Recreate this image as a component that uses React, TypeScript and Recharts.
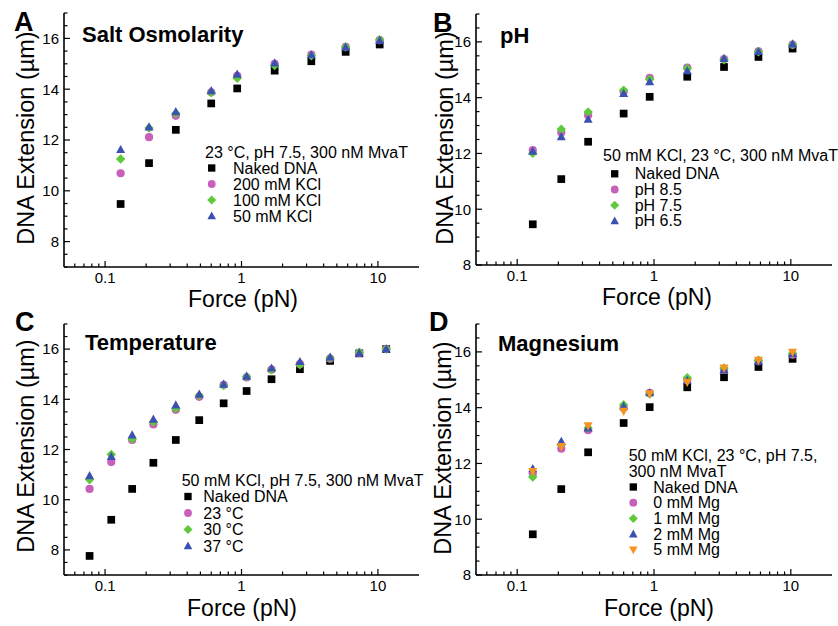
import React from 'react';
import { ScatterChart, Scatter, XAxis, YAxis, Legend } from 'recharts';

const FONT = '"Liberation Sans", Arial, Helvetica, sans-serif';

// ---------- data ----------
const forceStd = [0.13, 0.21, 0.33, 0.6, 0.93, 1.75, 3.25, 5.8, 10.3];
const forceTemp = [0.077, 0.111, 0.158, 0.226, 0.33, 0.49, 0.74, 1.09, 1.66, 2.68, 4.46, 7.3, 11.5];

const saltNaked = [9.48, 11.09, 12.4, 13.44, 14.03, 14.73, 15.1, 15.47, 15.76];
const salt200 = [10.69, 12.11, 12.95, 13.88, 14.53, 15.0, 15.36, 15.67, 15.93];
const salt100 = [11.25, 12.47, 13.04, 13.86, 14.43, 14.93, 15.32, 15.66, 15.95];
const salt50 = [11.62, 12.51, 13.11, 13.94, 14.59, 15.03, 15.35, 15.65, 15.92];

const phNaked = [9.46, 11.08, 12.42, 13.43, 14.03, 14.75, 15.1, 15.46, 15.76];
const ph85 = [12.12, 12.75, 13.37, 14.21, 14.71, 15.08, 15.38, 15.66, 15.9];
const ph75 = [12.01, 12.87, 13.49, 14.27, 14.66, 15.05, 15.36, 15.65, 15.9];
const ph65 = [12.08, 12.6, 13.22, 14.15, 14.57, 14.96, 15.4, 15.65, 15.92];

const tempNaked = [7.76, 9.2, 10.43, 11.47, 12.38, 13.17, 13.84, 14.33, 14.8, 15.2, 15.53, 15.83, 16.0];
const temp23 = [10.43, 11.5, 12.38, 13.0, 13.58, 14.1, 14.58, 14.87, 15.18, 15.4, 15.62, 15.84, 16.0];
const temp30 = [10.8, 11.8, 12.42, 13.1, 13.63, 14.15, 14.55, 14.9, 15.18, 15.38, 15.65, 15.87, 16.0];
const temp37 = [10.95, 11.72, 12.58, 13.2, 13.77, 14.2, 14.6, 14.92, 15.24, 15.5, 15.68, 15.84, 16.0];

const mgNaked = [9.46, 11.08, 12.4, 13.45, 14.02, 14.73, 15.09, 15.46, 15.75];
const mg0 = [11.63, 12.53, 13.19, 13.99, 14.53, 15.0, 15.36, 15.66, 15.9];
const mg1 = [11.51, 12.67, 13.27, 14.1, 14.49, 15.07, 15.42, 15.7, 15.94];
const mg2 = [11.81, 12.79, 13.27, 14.05, 14.53, 14.97, 15.36, 15.66, 15.94];
const mg5 = [11.71, 12.61, 13.35, 13.87, 14.5, 14.91, 15.42, 15.7, 15.99];

const xTicks = [0.06, 0.07, 0.08, 0.09, 0.1, 0.2, 0.3, 0.4, 0.5, 0.6, 0.7, 0.8, 0.9, 1, 2, 3, 4, 5, 6, 7, 8, 9, 10];
const xMajor = [0.1, 1, 10];
const yTicks7 = [7, 7.5, 8, 8.5, 9, 9.5, 10, 10.5, 11, 11.5, 12, 12.5, 13, 13.5, 14, 14.5, 15, 15.5, 16, 16.5, 17];
const yTicks8 = [8, 8.5, 9, 9.5, 10, 10.5, 11, 11.5, 12, 12.5, 13, 13.5, 14, 14.5, 15, 15.5, 16, 16.5, 17];

const COLORS = {
  black: '#000000',
  magenta: '#c75fbb',
  green: '#5fc83b',
  blue: '#3c50b2',
  orange: '#f7931e',
};

const toPoints = (xs: number[], ys: number[]) => xs.map((x, i) => ({ x, y: ys[i] }));

// ---------- marks ----------
type Kind = 'square' | 'circle' | 'diamond' | 'triangle' | 'triangleDown';

function Mark({ kind, cx, cy, color, s = 8 }: { kind: Kind; cx: number; cy: number; color: string; s?: number }) {
  if (cx == null || cy == null) return null;
  switch (kind) {
    case 'square':
      return <rect x={cx - s * 0.47} y={cy - s * 0.47} width={s * 0.94} height={s * 0.94} fill={color} />;
    case 'circle':
      return <circle cx={cx} cy={cy} r={s * 0.5} fill={color} />;
    case 'diamond': {
      const h = s * 0.58;
      return <polygon points={`${cx},${cy - h} ${cx + h},${cy} ${cx},${cy + h} ${cx - h},${cy}`} fill={color} />;
    }
    case 'triangle':
      return (
        <polygon
          points={`${cx},${cy - s * 0.58} ${cx + s * 0.55},${cy + s * 0.42} ${cx - s * 0.55},${cy + s * 0.42}`}
          fill={color}
        />
      );
    case 'triangleDown':
      return (
        <polygon
          points={`${cx},${cy + s * 0.58} ${cx + s * 0.55},${cy - s * 0.42} ${cx - s * 0.55},${cy - s * 0.42}`}
          fill={color}
        />
      );
    default:
      return null;
  }
}

const XTick = (props: any) => {
  const { x, y, payload } = props;
  const v = payload.value;
  const major = xMajor.includes(v);
  return (
    <g>
      <line x1={x} x2={x} y1={y} y2={y - (major ? 6 : 3.5)} stroke="#000" strokeWidth={1.2} />
      {major && (
        <text x={x} y={y + 16} textAnchor="middle" fontSize={15} fontFamily={FONT} fill="#000">
          {String(v)}
        </text>
      )}
    </g>
  );
};

const YTick = (props: any) => {
  const { x, y, payload } = props;
  const v = payload.value;
  const major = v % 2 === 0;
  return (
    <g>
      <line x1={x} x2={x + (major ? 6 : 3.5)} y1={y} y2={y} stroke="#000" strokeWidth={1.2} />
      {major && (
        <text x={x - 5} y={y + 5.3} textAnchor="end" fontSize={15} fontFamily={FONT} fill="#000">
          {String(v)}
        </text>
      )}
    </g>
  );
};

type Series = { name: string; kind: Kind; color: string; xs: number[]; ys: number[] };

type LegendCfg = {
  header: string[];
  headerX: number;
  headerY: number;
  headerGap: number;
  markerX: number;
  textX: number;
  rowY: number;
  rowGap: number;
};

type PanelCfg = {
  left: number;
  top: number;
  marginTop: number;
  marginRight: number;
  yAxisWidth: number;
  xAxisHeight: number;
  yDomain: [number, number];
  yTicks: number[];
  series: Series[];
  legend: LegendCfg;
};

const W = 419;
const H = 313;

function LegendBox({ cfg, series }: { cfg: LegendCfg; series: Series[] }) {
  return (
    <svg width={W} height={H} style={{ position: 'absolute', left: 0, top: 0, overflow: 'visible' }}>
      {cfg.header.map((h, i) => (
        <text
          key={'h' + i}
          x={cfg.headerX}
          y={cfg.headerY + i * cfg.headerGap}
          fontSize={16}
          fontFamily={FONT}
          fill="#000"
        >
          {h}
        </text>
      ))}
      {series.map((s, i) => {
        const by = cfg.rowY + i * cfg.rowGap;
        return (
          <g key={s.name}>
            <Mark kind={s.kind} cx={cfg.markerX} cy={by - 5.5} color={s.color} s={7.8} />
            <text x={cfg.textX} y={by} fontSize={16} fontFamily={FONT} fill="#000">
              {s.name}
            </text>
          </g>
        );
      })}
    </svg>
  );
}

function Panel({ cfg }: { cfg: PanelCfg }) {
  return (
    <div style={{ position: 'absolute', left: cfg.left, top: cfg.top, width: W, height: H }}>
      <ScatterChart
        width={W}
        height={H}
        margin={{ top: cfg.marginTop, right: cfg.marginRight, left: 0, bottom: 0 }}
      >
        <XAxis
          type="number"
          dataKey="x"
          scale="log"
          domain={[0.05, 20]}
          allowDataOverflow
          ticks={xTicks}
          interval={0}
          tickSize={0}
          tickMargin={0}
          tickLine={false}
          tick={<XTick />}
          height={cfg.xAxisHeight}
          axisLine={{ stroke: '#000', strokeWidth: 1.6 }}
        />
        <YAxis
          type="number"
          dataKey="y"
          domain={cfg.yDomain}
          allowDataOverflow
          ticks={cfg.yTicks}
          interval={0}
          tickSize={0}
          tickMargin={0}
          tickLine={false}
          tick={<YTick />}
          width={cfg.yAxisWidth}
          axisLine={{ stroke: '#000', strokeWidth: 1.6 }}
        />
        <Legend
          layout="horizontal"
          verticalAlign="middle"
          align="center"
          width={W}
          height={H}
          wrapperStyle={{ left: 0, top: 0, width: W, height: H, pointerEvents: 'none' }}
          content={() => <LegendBox cfg={cfg.legend} series={cfg.series} />}
        />
        {cfg.series.map((s) => (
          <Scatter
            key={s.name}
            name={s.name}
            data={toPoints(s.xs, s.ys)}
            fill={s.color}
            isAnimationActive={false}
            shape={(p: any) => <Mark kind={s.kind} cx={p.cx} cy={p.cy} color={s.color} s={8.2} />}
          />
        ))}
      </ScatterChart>
    </div>
  );
}

const panels: PanelCfg[] = [
  {
    left: 0,
    top: 0,
    marginTop: 13,
    marginRight: 0,
    yAxisWidth: 64,
    xAxisHeight: 46,
    yDomain: [7, 17],
    yTicks: yTicks7,
    series: [
      { name: 'Naked DNA', kind: 'square', color: COLORS.black, xs: forceStd, ys: saltNaked },
      { name: '200 mM KCl', kind: 'circle', color: COLORS.magenta, xs: forceStd, ys: salt200 },
      { name: '100 mM KCl', kind: 'diamond', color: COLORS.green, xs: forceStd, ys: salt100 },
      { name: '50 mM KCl', kind: 'triangle', color: COLORS.blue, xs: forceStd, ys: salt50 },
    ],
    legend: {
      header: ['23 °C, pH 7.5, 300 nM MvaT'],
      headerX: 205,
      headerY: 157.5,
      headerGap: 16,
      markerX: 211.7,
      textX: 233,
      rowY: 173.5,
      rowGap: 16,
    },
  },
  {
    left: 419,
    top: 0,
    marginTop: 14,
    marginRight: 6,
    yAxisWidth: 57,
    xAxisHeight: 48,
    yDomain: [8, 17],
    yTicks: yTicks8,
    series: [
      { name: 'Naked DNA', kind: 'square', color: COLORS.black, xs: forceStd, ys: phNaked },
      { name: 'pH 8.5', kind: 'circle', color: COLORS.magenta, xs: forceStd, ys: ph85 },
      { name: 'pH 7.5', kind: 'diamond', color: COLORS.green, xs: forceStd, ys: ph75 },
      { name: 'pH 6.5', kind: 'triangle', color: COLORS.blue, xs: forceStd, ys: ph65 },
    ],
    legend: {
      header: ['50 mM KCl, 23 °C, 300 nM MvaT'],
      headerX: 603 - 419,
      headerY: 161,
      headerGap: 16,
      markerX: 614.7 - 419,
      textX: 634.7 - 419,
      rowY: 179.3,
      rowGap: 15.7,
    },
  },
  {
    left: 0,
    top: 313,
    marginTop: 11,
    marginRight: 0,
    yAxisWidth: 64,
    xAxisHeight: 51,
    yDomain: [7, 17],
    yTicks: yTicks7,
    series: [
      { name: 'Naked DNA', kind: 'square', color: COLORS.black, xs: forceTemp, ys: tempNaked },
      { name: '23 °C', kind: 'circle', color: COLORS.magenta, xs: forceTemp, ys: temp23 },
      { name: '30 °C', kind: 'diamond', color: COLORS.green, xs: forceTemp, ys: temp30 },
      { name: '37 °C', kind: 'triangle', color: COLORS.blue, xs: forceTemp, ys: temp37 },
    ],
    legend: {
      header: ['50 mM KCl, pH 7.5, 300 nM MvaT'],
      headerX: 181.7,
      headerY: 485.5 - 313,
      headerGap: 16,
      markerX: 188,
      textX: 203.3,
      rowY: 502 - 313,
      rowGap: 16.5,
    },
  },
  {
    left: 419,
    top: 313,
    marginTop: 11,
    marginRight: 6,
    yAxisWidth: 57,
    xAxisHeight: 51,
    yDomain: [8, 17],
    yTicks: yTicks8,
    series: [
      { name: 'Naked DNA', kind: 'square', color: COLORS.black, xs: forceStd, ys: mgNaked },
      { name: '0 mM Mg', kind: 'circle', color: COLORS.magenta, xs: forceStd, ys: mg0 },
      { name: '1 mM Mg', kind: 'diamond', color: COLORS.green, xs: forceStd, ys: mg1 },
      { name: '2 mM Mg', kind: 'triangle', color: COLORS.blue, xs: forceStd, ys: mg2 },
      { name: '5 mM Mg', kind: 'triangleDown', color: COLORS.orange, xs: forceStd, ys: mg5 },
    ],
    legend: {
      header: ['50 mM KCl, 23 °C, pH 7.5,', '300 nM MvaT'],
      headerX: 628.7 - 419,
      headerY: 460.5 - 313,
      headerGap: 16,
      markerX: 633.3 - 419,
      textX: 653.3 - 419,
      rowY: 492.5 - 313,
      rowGap: 15.7,
    },
  },
];

const letters = [
  { t: 'A', x: 14, y: 31 },
  { t: 'B', x: 433, y: 32 },
  { t: 'C', x: 15, y: 331 },
  { t: 'D', x: 429, y: 331 },
];
const titles = [
  { t: 'Salt Osmolarity', x: 82, y: 42 },
  { t: 'pH', x: 500, y: 43 },
  { t: 'Temperature', x: 85, y: 350 },
  { t: 'Magnesium', x: 498, y: 351 },
];
const yLabels = [
  { x: 33.5, y: 138 },
  { x: 453, y: 138 },
  { x: 34, y: 446 },
  { x: 451, y: 448 },
];
const xLabels = [
  { x: 243, y: 306.5 },
  { x: 657, y: 305 },
  { x: 242, y: 615.5 },
  { x: 659, y: 615.5 },
];

export default function App() {
  return (
    <div style={{ position: 'absolute', left: 0, top: 0, width: 838, height: 626, background: '#fff', overflow: 'hidden' }}>
      {panels.map((p, i) => (
        <Panel key={i} cfg={p} />
      ))}
      <svg width={838} height={626} style={{ position: 'absolute', left: 0, top: 0, pointerEvents: 'none' }}>
        {letters.map((l) => (
          <text key={l.t} x={l.x} y={l.y} fontSize={27} fontWeight="bold" fontFamily={FONT} fill="#000">
            {l.t}
          </text>
        ))}
        {titles.map((l) => (
          <text key={l.t} x={l.x} y={l.y} fontSize={22} fontWeight="bold" fontFamily={FONT} fill="#000">
            {l.t}
          </text>
        ))}
        {yLabels.map((l, i) => (
          <text
            key={'y' + i}
            x={l.x}
            y={l.y}
            fontSize={23.5}
            fontFamily={FONT}
            textAnchor="middle"
            fill="#000"
            transform={`rotate(-90, ${l.x}, ${l.y})`}
          >
            DNA Extension (µm)
          </text>
        ))}
        {xLabels.map((l, i) => (
          <text key={'x' + i} x={l.x} y={l.y} fontSize={23} fontFamily={FONT} textAnchor="middle" fill="#000">
            Force (pN)
          </text>
        ))}
      </svg>
    </div>
  );
}
